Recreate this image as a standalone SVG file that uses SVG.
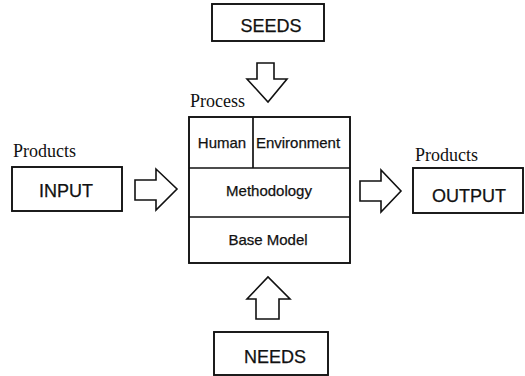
<svg xmlns="http://www.w3.org/2000/svg" width="525" height="376" viewBox="0 0 525 376">
  <style>
    .box { fill: #fff; stroke: #111; stroke-width: 1.9; }
    .line { fill: none; stroke: #111; stroke-width: 1.7; }
    .arrow { fill: #fff; stroke: #111; stroke-width: 1.6; stroke-linejoin: miter; }
    .lbl { font-family: "Liberation Sans", Arial, sans-serif; fill: #111; stroke: #111; stroke-width: 0.25; text-anchor: middle; }
    .big { font-size: 18px; }
    .mid { font-size: 15px; }
    .cap { font-family: "Liberation Serif", "Times New Roman", serif; font-size: 18px; fill: #111; }
  </style>
  <rect width="525" height="376" fill="#fff"/>

  <!-- block arrows between the boxes -->
  <g id="connectors">
    <path class="arrow" d="M257,63 H274 V79 H287 L268,102 L247,79 H257 Z"/>
    <path class="arrow" d="M256,319 H279 V299 H290 L268,277 L247,299 H256 Z"/>
    <path class="arrow" d="M135,180 H156 V169 L177,189 L156,210 V200 H135 Z"/>
    <path class="arrow" d="M360,181 H381 V170 L401,191 L381,212 V201 H360 Z"/>
  </g>

  <g id="seeds">
    <rect class="box" x="212" y="4" width="112" height="37"/>
    <text class="lbl big" x="271" y="32">SEEDS</text>
  </g>

  <g id="input">
    <text class="cap" x="13" y="157">Products</text>
    <rect class="box" x="12" y="167" width="110" height="44"/>
    <text class="lbl big" x="66" y="197">INPUT</text>
  </g>

  <g id="process">
    <text class="cap" x="190" y="107">Process</text>
    <rect class="box" x="189" y="117" width="161" height="146"/>
    <line class="line" x1="189" y1="168" x2="350" y2="168"/>
    <line class="line" x1="189" y1="217" x2="350" y2="217"/>
    <line class="line" x1="253" y1="117" x2="253" y2="168"/>
    <text class="lbl mid" x="222" y="148">Human</text>
    <text class="lbl mid" x="298" y="148">Environment</text>
    <text class="lbl mid" x="269" y="196">Methodology</text>
    <text class="lbl mid" x="268" y="245">Base Model</text>
  </g>

  <g id="output">
    <text class="cap" x="415" y="161">Products</text>
    <rect class="box" x="413" y="168" width="110" height="45"/>
    <text class="lbl big" x="469" y="202">OUTPUT</text>
  </g>

  <g id="needs">
    <rect class="box" x="214" y="332" width="114" height="43"/>
    <text class="lbl big" x="275" y="363">NEEDS</text>
  </g>
</svg>
